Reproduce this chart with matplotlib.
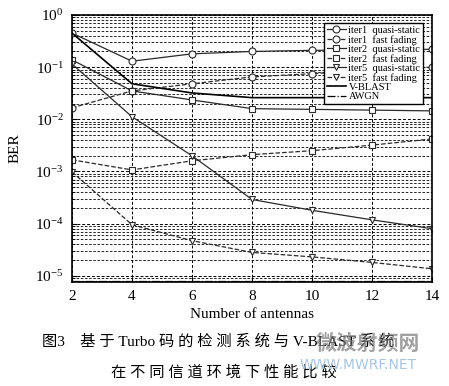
import matplotlib
matplotlib.use("Agg")
import matplotlib.pyplot as plt
import numpy as np

# number of antennas
antennas = [2, 4, 6, 8, 10, 12, 14]

# BER
iter1_qs = [0.45, 0.13, 0.18, 0.20, 0.21, 0.215, 0.22]
iter1_ff = [0.0166, 0.035, 0.048, 0.065, 0.075, 0.088, 0.10]
iter2_qs = [0.138, 0.035, 0.0235, 0.016, 0.0155, 0.015, 0.0145]
iter2_ff = [1.67e-3, 1.07e-3, 1.6e-3, 2.1e-3, 2.5e-3, 3.2e-3, 4.2e-3]
iter5_qs = [0.115, 0.0112, 2.0e-3, 2.9e-4, 1.8e-4, 1.18e-4, 8.0e-5]
iter5_ff = [9.8e-4, 9.5e-5, 4.7e-5, 2.8e-5, 2.3e-5, 1.8e-5, 1.36e-5]
vblast = [0.45, 0.048, 0.032, 0.026, 0.026, 0.026, 0.026]
awgn = [7.9e-6, 7.9e-6, 7.9e-6, 7.9e-6, 7.9e-6, 7.9e-6, 7.9e-6]

labels = ["iter1  quasi-static", "iter1  fast fading",
          "iter2  quasi-static", "iter2  fast fading",
          "iter5  quasi-static", "iter5  fast fading",
          "V-BLAST", "AWGN"]

plt.rcParams["font.family"] = ["Liberation Serif", "Noto Sans CJK SC", "DejaVu Sans"]
plt.rcParams["mathtext.fontset"] = "stix"

fig = plt.figure(figsize=(4.49, 3.86), dpi=100)
ax = fig.add_axes([72 / 449, 1 - 282 / 386, 360 / 449, 267 / 386])

c = "#2a2a2a"
mk = dict(markerfacecolor="white", markeredgecolor=c, markersize=5,
          markeredgewidth=0.8)
ax.semilogy(antennas, iter1_qs, "-o", color=c, lw=0.9, label=labels[0], **mk)
ax.semilogy(antennas, iter1_ff, "--o", color=c, lw=0.9, label=labels[1], **mk)
ax.semilogy(antennas, iter2_qs, "-s", color=c, lw=0.9, label=labels[2],
            **{**mk, "markersize": 4.5})
ax.semilogy(antennas, iter2_ff, "--s", color=c, lw=0.9, label=labels[3],
            **{**mk, "markersize": 4.5})
ax.semilogy(antennas, iter5_qs, "-v", color=c, lw=0.9, label=labels[4], **mk)
ax.semilogy(antennas, iter5_ff, "--v", color=c, lw=0.9, label=labels[5], **mk)
ax.semilogy(antennas, vblast, "-", color="black", lw=1.2, label=labels[6])
ax.semilogy(antennas, awgn, "-.", color="black", lw=0.9, label=labels[7])

ax.set_xlim(2, 14)
ax.set_ylim(10 ** -5.12, 1)
ax.set_xticks(antennas)
ax.set_yticks([1, 1e-1, 1e-2, 1e-3, 1e-4, 1e-5])
ax.grid(True, which="major", ls=(0, (3, 2)), color="black", lw=0.7)
ax.grid(True, which="minor", axis="y", ls=(0, (3, 2)), color="black", lw=0.6)
ax.tick_params(axis="both", which="both", direction="in", labelsize=11,
               pad=6)
for s in ax.spines.values():
    s.set_linewidth(1.2)

ax.set_xlabel("Number of antennas", fontsize=11, labelpad=3)
ax.set_ylabel("BER", fontsize=11, labelpad=10)

ax.legend(loc="upper right", bbox_to_anchor=(0.975, 0.97), fontsize=7.5,
          labelspacing=0.0, handlelength=1.9, handletextpad=0.2,
          borderpad=0.25, fancybox=False, framealpha=1, edgecolor="black",
          borderaxespad=0)

# caption
sp = "\u2005"
line1 = "图3" + "\u2003" + sp.join("基于") + sp + "Turbo" + sp + sp.join("码的检测系统与") \
    + sp + "V-BLAST" + sp + sp.join("系统")
line2 = sp.join("在不同信道环境下性能比较")
fig.text(42 / 449, 1 - 341 / 386, line1, fontsize=11, va="center", ha="left")
fig.text(224 / 449, 1 - 372 / 386, line2, fontsize=11, va="center", ha="center")

# watermark
fig.text(368 / 449, 1 - 345 / 386, "微波射频网", fontsize=15, weight="bold",
         color="#7a7a7a", alpha=0.7, ha="center", va="center")
fig.text(358 / 449, 1 - 365 / 386, "WWW.MWRF.NET", fontsize=10,
         family="DejaVu Sans", color="#a9c4dc", ha="center", va="center")

fig.savefig("out.png", dpi=100)
